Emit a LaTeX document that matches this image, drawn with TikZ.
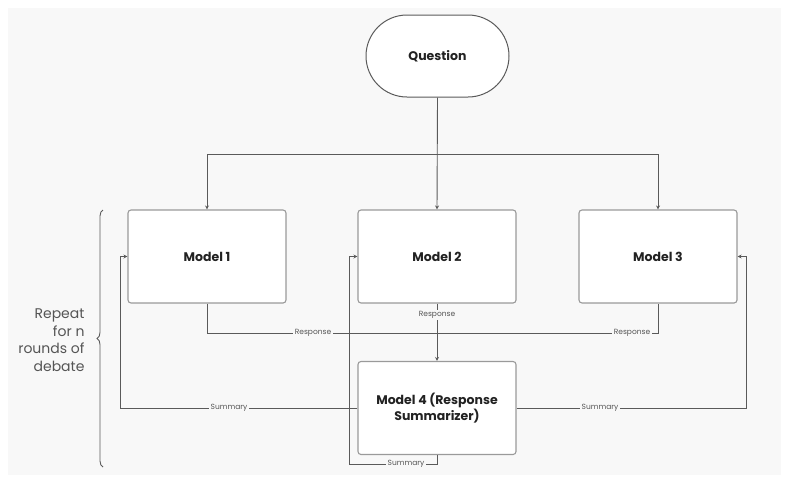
\documentclass[tikz,border=0pt]{standalone}
\usepackage{fontspec}
\setmainfont{Poppins}
\usetikzlibrary{arrows.meta,decorations.pathreplacing}
\definecolor{bg}{HTML}{F8F8F8}
\definecolor{linec}{HTML}{5A5A5A}
\definecolor{boxc}{HTML}{9A9A9A}
\definecolor{txt}{HTML}{222222}
\definecolor{lblc}{HTML}{555555}
\begin{document}
\begin{tikzpicture}[x=1pt,y=-1pt,
  modelbox/.style={draw=boxc, line width=1.1pt, fill=white, rounded corners=3pt,
    minimum width=158pt, minimum height=93pt, align=center, inner sep=0pt,
    font=\fontsize{12.5}{16}\selectfont\bfseries, text=txt},
  qbox/.style={draw=linec, line width=1pt, fill=white, rounded corners=41pt,
    minimum width=143pt, minimum height=82pt, inner sep=0pt,
    font=\fontsize{12.5}{16}\selectfont\bfseries, text=txt},
  conn/.style={draw=linec, line width=0.9pt},
  arr/.style={conn, -{Stealth[length=4pt,width=4pt]}},
  lbl/.style={fill=bg, inner sep=1.5pt, text=lblc, font=\fontsize{7.5}{9}\selectfont},
  side/.style={align=right, text=lblc, font=\fontsize{14}{17.5}\selectfont}
]
\useasboundingbox (0,0) rectangle (789,491);
\fill[white] (0,0) rectangle (789,491);
\fill[bg] (8,8) rectangle (781,475);

\node[qbox] (q) at (437.5,56) {Question};
\node[modelbox] (m1) at (207,256.5) {Model 1};
\node[modelbox] (m2) at (437,256.5) {Model 2};
\node[modelbox] (m3) at (658,256.5) {Model 3};
\node[modelbox] (m4) at (437,408) {Model 4 (Response\\Summarizer)};

% question to models
\coordinate (br) at (437,154);
\draw[arr] (q.south) -- (m2.north);
\draw[arr] (br) -| (m1.north);
\draw[arr] (br) -| (m3.north);

% responses
\coordinate (r1) at (207,333);
\coordinate (r3) at (658,333);
\draw[conn] (m1.south) -- (r1) -- (r3) -- (m3.south);
\node[lbl] (lr1) at (313,333) {Response};
\node[lbl] (lr3) at (632,333) {Response};
\draw[arr] (m2.south) -- (m4.north);
\node[lbl] (lr2) at (437,315) {Response};

% summaries
\coordinate (sl) at (120,408);
\coordinate (sr) at (746,408);
\coordinate (sb) at (349,464);
\draw[arr] (m4.west) -- (sl) |- (m1.west);
\draw[arr] (m4.east) -- (sr) |- (m3.east);
\draw[arr] (m4.south) |- (sb) |- (m2.west);
\node[lbl] (ls1) at (229,408) {Summary};
\node[lbl] (ls3) at (600,408) {Summary};
\node[lbl] (ls2) at (406,464) {Summary};

% brace
\draw[draw=linec, line width=0.9pt, decorate, decoration={brace, amplitude=6pt}]
  (103,467) -- (103,210);
\node[side, anchor=east] (rep) at (88,340) {Repeat\\for n\\rounds of\\debate};
\end{tikzpicture}
\end{document}
